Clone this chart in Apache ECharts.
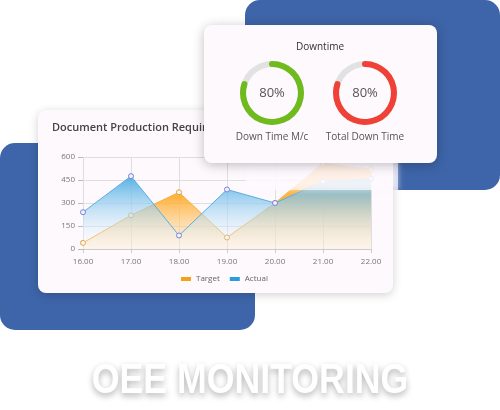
<!DOCTYPE html>
<html>
<head>
<meta charset="utf-8">
<script src="https://cdn.jsdelivr.net/npm/echarts@6/dist/echarts.min.js"></script>
<style>html,body{margin:0;padding:0;background:#fff;}#c{width:500px;height:410px;}</style>
</head>
<body>
<div id="c"></div>
<script>
const categories = ['16.00','17.00','18.00','19.00','20.00','21.00','22.00'];
const targetValues = [40, 220, 370, 75, 300, 560, 520];
const actualValues = [240, 475, 88, 388, 300, 440, 460];
const gaugeValues = [80, 80];
const gaugeLabels = ['Down Time M/c', 'Total Down Time'];
const gaugeColors = ['#6fba1c', '#ef4136'];
const chartTitle = 'Document Production Requirement';
const cardTitle = 'Downtime';
const bannerText = 'OEE MONITORING';

const chart = echarts.init(document.getElementById('c'), null, {renderer:'canvas'});
const FONT = 'Open Sans';
const BLUE = '#3e65a9';

const gaugeCenters = [[272, 93], [365, 93]];
const gaugeSeries = gaugeValues.map((v, i) => ({
  type: 'gauge',
  z: 20,
  center: gaugeCenters[i],
  radius: 32,
  startAngle: 90,
  endAngle: -270,
  min: 0, max: 100,
  pointer: {show: false},
  progress: {show: true, roundCap: true, width: 6, itemStyle: {color: gaugeColors[i]}},
  axisLine: {lineStyle: {width: 6, color: [[1, '#e2e2e2']]}},
  axisTick: {show: false}, splitLine: {show: false}, axisLabel: {show: false},
  title: {show: false},
  detail: {offsetCenter: [0, 0], formatter: '{value}%', fontSize: 13, color: '#555', fontFamily: FONT, fontWeight: 500},
  data: [{value: v}]
}));

const option = {
  backgroundColor: '#ffffff',
  animation: false,
  grid: {left: 83, right: 129, top: 157, bottom: 161, containLabel: false},
  legend: {
    left: 176, top: 270, itemWidth: 10, itemHeight: 4, icon: 'rect', itemGap: 10,
    textStyle: {fontSize: 8, color: '#666', fontFamily: FONT},
    data: [{name: 'Target', itemStyle: {color: '#f5a21b', borderWidth: 0}}, {name: 'Actual', itemStyle: {color: '#2b9be0', borderWidth: 0}}]
  },
  xAxis: {
    type: 'category', data: categories, boundaryGap: false,
    axisLine: {lineStyle: {color: '#cccccc'}},
    axisTick: {show: true, length: 4, lineStyle: {color: '#cccccc'}},
    axisLabel: {fontSize: 8, color: '#777', fontFamily: FONT, margin: 9},
    splitLine: {show: true, lineStyle: {color: '#dedede'}}
  },
  yAxis: {
    type: 'value', min: 0, max: 600, interval: 150,
    axisLine: {show: false},
    axisTick: {show: true, length: 5, lineStyle: {color: '#bbb'}},
    axisLabel: {fontSize: 8, color: '#777', fontFamily: FONT, margin: 8},
    splitLine: {show: true, lineStyle: {color: '#dedede'}}
  },
  series: [
    {
      name: 'Target', type: 'line', data: targetValues, z: 3,
      symbol: 'circle', symbolSize: 5,
      lineStyle: {color: '#f4b13d', width: 1},
      itemStyle: {color: '#fdf6ea', borderColor: '#d9a24c', borderWidth: 1},
      areaStyle: {opacity: 1, color: new echarts.graphic.LinearGradient(0, 0, 0, 1, [
        {offset: 0, color: 'rgba(255,160,20,1)'}, {offset: 0.4, color: 'rgba(255,172,45,0.9)'}, {offset: 1, color: 'rgba(252,232,200,0.35)'}])}
    },
    {
      name: 'Actual', type: 'line', data: actualValues, z: 4,
      symbol: 'circle', symbolSize: 5,
      lineStyle: {color: '#5aaee0', width: 1},
      itemStyle: {color: '#eef4fb', borderColor: '#7b7fdc', borderWidth: 1},
      areaStyle: {opacity: 1, color: new echarts.graphic.LinearGradient(0, 0, 0, 1, [
        {offset: 0, color: 'rgba(75,172,228,0.95)'}, {offset: 0.65, color: 'rgba(200,228,246,0.5)'}, {offset: 1, color: 'rgba(255,255,255,0.05)'}])}
    }
  ].concat(gaugeSeries),
  graphic: [
    {type: 'rect', z: -10, shape: {x: 245, y: 0, width: 255, height: 190, r: 15}, style: {fill: BLUE}},
    {type: 'rect', z: -10, shape: {x: 0, y: 143, width: 255, height: 187, r: 15}, style: {fill: BLUE}},
    {type: 'rect', z: -5, shape: {x: 38, y: 110, width: 355, height: 183, r: 8},
      style: {fill: '#fdf9fd', shadowBlur: 10, shadowColor: 'rgba(0,0,0,0.18)', shadowOffsetY: 2}},
    {type: 'text', z: -4, x: 52, y: 128, style: {text: chartTitle, fontSize: 11, fontWeight: 600, fill: '#444', fontFamily: FONT, verticalAlign: 'middle'}},
    {type: 'rect', z: 8, shape: {x: 246, y: 162, width: 152, height: 28},
      style: {fill: 'rgba(253,249,253,0.7)', shadowBlur: 6, shadowColor: 'rgba(253,249,253,0.9)'}},
    {type: 'rect', z: 10, shape: {x: 204, y: 25, width: 233, height: 138, r: 8},
      style: {fill: '#fdf9fd', shadowBlur: 12, shadowColor: 'rgba(0,0,0,0.25)', shadowOffsetY: 2}},
    {type: 'text', z: 11, x: 320, y: 47, style: {text: cardTitle, fontSize: 10, fontWeight: 500, fill: '#333', fontFamily: FONT, align: 'center', verticalAlign: 'middle'}},
    {type: 'text', z: 11, x: 272, y: 137, style: {text: gaugeLabels[0], fontSize: 10, fill: '#555', fontFamily: FONT, align: 'center', verticalAlign: 'middle'}},
    {type: 'text', z: 11, x: 365, y: 137, style: {text: gaugeLabels[1], fontSize: 10, fill: '#555', fontFamily: FONT, align: 'center', verticalAlign: 'middle'}},
    {type: 'text', z: 11, x: 250, y: 381, scaleX: 0.85, originX: 0, originY: 0,
      style: {text: bannerText, fontSize: 42, fontWeight: 'bold', fill: '#ffffff', fontFamily: 'Liberation Sans',
        align: 'center', verticalAlign: 'middle', textShadowColor: 'rgba(0,0,0,0.3)', textShadowBlur: 6, textShadowOffsetY: 3}}
  ]
};
chart.setOption(option);
</script>
</body>
</html>
